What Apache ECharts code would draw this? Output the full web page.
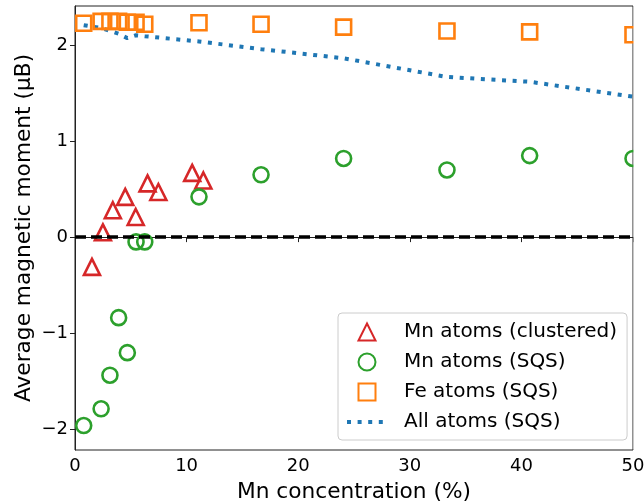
<!DOCTYPE html>
<html>
<head>
<meta charset="utf-8">
<script src="https://cdn.jsdelivr.net/npm/echarts@6/dist/echarts.min.js"></script>
<style>
html,body{margin:0;padding:0;background:#fff;}
#chart{width:644px;height:504px;}
</style>
</head>
<body>
<div id="chart"></div>
<script>
// ---- data ----
const xSQS = [0.78, 2.34, 3.13, 3.91, 4.69, 5.47, 6.25, 11.11, 16.67, 24.07, 33.33, 40.74, 50];
const mnSQS = [-1.965, -1.79, -1.44, -0.84, -1.205, -0.05, -0.05, 0.42, 0.65, 0.82, 0.70, 0.85, 0.82];
const feSQS = [2.23, 2.25, 2.25, 2.25, 2.24, 2.24, 2.22, 2.235, 2.22, 2.19, 2.15, 2.14, 2.11];
const allSQS = [2.21, 2.18, 2.15, 2.12, 2.075, 2.105, 2.095, 2.04, 1.96, 1.865, 1.67, 1.62, 1.465];
const xClustered = [1.52, 2.5, 3.39, 4.5, 5.44, 6.5, 7.47, 10.5, 11.5];
const mnClustered = [-0.31, 0.05, 0.28, 0.42, 0.21, 0.56, 0.47, 0.67, 0.59];
const xTicks = [0, 10, 20, 30, 40, 50];
const yTicks = [-2, -1, 0, 1, 2];
const seriesNames = ['Mn atoms (clustered)', 'Mn atoms (SQS)', 'Fe atoms (SQS)', 'All atoms (SQS)'];
const xName = 'Mn concentration (%)';
const yName = 'Average magnetic moment (\u03bcB)';

const pair = (xs, ys) => xs.map((x, i) => [x, ys[i]]);
const FONT = '"DejaVu Sans", sans-serif';
const fmt = v => String(v).replace('-', '\u2212');
const TRI = 'path://M0,-1L1,1L-1,1Z';
const SQR = 'path://M-1,-1L1,-1L1,1L-1,1Z';
const DOTS = [4, 6.6];

const chart = echarts.init(document.getElementById('chart'), null, {renderer: 'canvas'});
const hollow = (c) => ({color: 'rgba(255,255,255,0)', borderColor: c, borderWidth: 2.6, opacity: 1});

chart.setOption({
  animation: false,
  backgroundColor: '#fff',
  grid: {left: 75, right: 11, top: 6, bottom: 54, outerBoundsMode: 'none', containLabel: false,
         show: true, borderColor: '#222', borderWidth: 1, backgroundColor: 'transparent'},
  xAxis: {
    type: 'value', min: 0, max: 50, interval: 10,
    name: xName, nameLocation: 'middle', nameGap: 31,
    nameTextStyle: {fontFamily: FONT, fontSize: 21.7, color: '#000'},
    axisLine: {show: true, lineStyle: {color: '#222', width: 1}},
    axisTick: {show: true, length: 5, lineStyle: {color: '#222'}},
    axisLabel: {fontFamily: FONT, fontSize: 18, color: '#000', margin: 7, formatter: fmt},
    splitLine: {show: false}
  },
  yAxis: {
    type: 'value', min: -2.22, max: 2.41,
    name: yName, nameLocation: 'middle', nameGap: 40, nameRotate: 90, nameMoveOverlap: false,
    nameTextStyle: {fontFamily: FONT, fontSize: 21.7, color: '#000'},
    axisLine: {show: true, lineStyle: {color: '#222', width: 1}},
    axisTick: {show: true, length: 5, lineStyle: {color: '#222'}, customValues: yTicks},
    axisLabel: {fontFamily: FONT, fontSize: 18, color: '#000', margin: 7, customValues: yTicks, formatter: fmt},
    splitLine: {show: false}
  },
  legend: {
    orient: 'vertical', left: 338, top: 313,
    data: [
      {name: seriesNames[0], icon: TRI},
      {name: seriesNames[1], icon: 'circle'},
      {name: seriesNames[2], icon: SQR},
      {name: seriesNames[3], itemStyle: {opacity: 0},
       lineStyle: {color: '#1f77b4', width: 4, type: DOTS, dashOffset: 0, cap: 'butt'}}
    ],
    itemWidth: 40, itemHeight: 17, itemGap: 10,
    padding: [9, 10, 8, 7],
    backgroundColor: 'rgba(255,255,255,0.85)',
    borderColor: '#ccc', borderWidth: 1, borderRadius: 4,
    textStyle: {fontFamily: FONT, fontSize: 20, lineHeight: 20, color: '#000', padding: [0, 0, 0, 12]}
  },
  series: [
    {
      name: seriesNames[3], type: 'line', z: 2,
      data: pair(xSQS, allSQS), symbol: 'none', clip: true,
      lineStyle: {color: '#1f77b4', width: 4, type: DOTS, cap: 'butt'},
      itemStyle: {color: '#1f77b4'},
      markLine: {
        silent: true, symbol: 'none', label: {show: false},
        lineStyle: {color: '#000', width: 3.6, type: [11, 5]},
        data: [{yAxis: 0}]
      }
    },
    {
      name: seriesNames[0], type: 'scatter', z: 3,
      data: pair(xClustered, mnClustered),
      symbol: 'triangle', symbolSize: 16,
      itemStyle: hollow('#d62728')
    },
    {
      name: seriesNames[1], type: 'scatter', z: 3,
      data: pair(xSQS, mnSQS),
      symbol: 'circle', symbolSize: 15,
      itemStyle: hollow('#2ca02c')
    },
    {
      name: seriesNames[2], type: 'scatter', z: 3,
      data: pair(xSQS, feSQS),
      symbol: 'rect', symbolSize: 15,
      itemStyle: hollow('#ff7f0e')
    }
  ],
  graphic: [{
    type: 'rect', z: 100, silent: true,
    shape: {x: 633.5, y: 0, width: 20, height: 449.5},
    style: {fill: '#fff'}
  }]
});
</script>
</body>
</html>
